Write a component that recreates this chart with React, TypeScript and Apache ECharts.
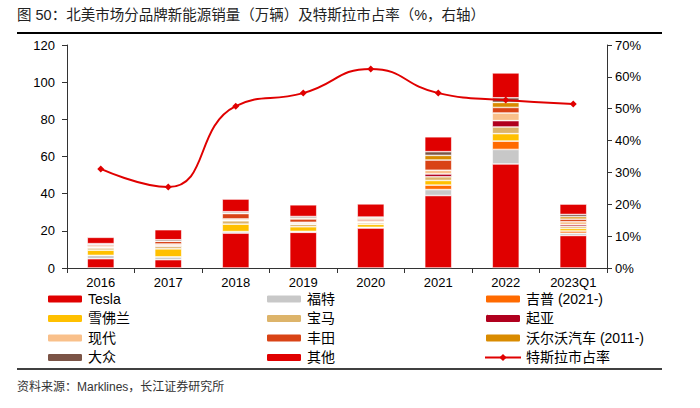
import React, { useEffect, useRef } from "react";
import * as echarts from "echarts";

const categories = ["2016", "2017", "2018", "2019", "2020", "2021", "2022", "2023Q1"];
const tesla = [5.0, 4.5, 18.8, 19.2, 21.5, 39.0, 56.0, 17.5];
const ford = [1.8, 1.5, 0.8, 0.5, 0.4, 3.2, 7.8, 1.2];
const jeep = [0, 0, 0, 0, 0, 2.4, 4.5, 1.2];
const chevrolet = [2.8, 4.3, 4.0, 2.5, 1.6, 2.5, 4.0, 1.4];
const bmw = [1.2, 1.3, 1.8, 1.3, 0.8, 2.0, 3.6, 1.1];
const kia = [0.3, 0.4, 0.3, 0.3, 0.3, 1.5, 3.4, 0.9];
const hyundai = [0.8, 0.9, 0.7, 0.8, 0.7, 2.0, 4.1, 1.6];
const toyota = [0.8, 1.5, 2.9, 1.8, 1.0, 5.5, 3.0, 1.4];
const volvo = [0, 0, 0.3, 0.5, 0.6, 2.5, 2.7, 1.3];
const vw = [0.4, 0.8, 0.7, 0.8, 0.5, 2.0, 2.5, 1.2];
const others = [3.4, 5.4, 6.8, 6.3, 7.1, 8.0, 13.4, 5.6];
const teslaShare = [31.1, 25.4, 50.8, 54.9, 62.5, 54.9, 52.7, 51.5];

const leftTicks = { min: 0, max: 120, interval: 20 };
const rightTicks = { min: 0, max: 70, interval: 10 };

const barSeriesDefs = [
  { name: "Tesla", data: tesla, color: "#E00000" },
  { name: "福特", data: ford, color: "#C8C8C8" },
  { name: "吉普 (2021-)", data: jeep, color: "#FF6A00" },
  { name: "雪佛兰", data: chevrolet, color: "#FFC000" },
  { name: "宝马", data: bmw, color: "#DDB46A" },
  { name: "起亚", data: kia, color: "#B0001E" },
  { name: "现代", data: hyundai, color: "#F9C08A" },
  { name: "丰田", data: toyota, color: "#D94316" },
  { name: "沃尔沃汽车 (2011-)", data: volvo, color: "#D98B00" },
  { name: "大众", data: vw, color: "#7B5446" },
  { name: "其他", data: others, color: "#E00000" },
];

const FONT = 'Arial, "Liberation Sans", "Noto Sans CJK SC", sans-serif';

export default function App() {
  const ref = useRef<HTMLDivElement>(null);
  useEffect(() => {
    if (!ref.current) return;
    const chart = echarts.init(ref.current, null, { renderer: "svg" });
    const legendCommon = {
      orient: "vertical",
      top: 292,
      padding: 0,
      itemWidth: 36,
      itemHeight: 9,
      itemGap: 5.5,
      textStyle: { fontSize: 14, color: "#000", fontFamily: FONT },
      selectedMode: false,
    };
    chart.setOption({
      animation: false,
      textStyle: { fontFamily: FONT },
      grid: { left: 67, right: 93, top: 45, bottom: 140 },
      legend: [
        { ...legendCommon, left: 46, data: ["Tesla", "雪佛兰", "现代", "大众"] },
        { ...legendCommon, left: 265, data: ["福特", "宝马", "丰田", "其他"] },
        { ...legendCommon, left: 484, data: ["吉普 (2021-)", "起亚", "沃尔沃汽车 (2011-)", "特斯拉市占率"] },
      ],
      xAxis: {
        type: "category",
        data: categories,
        axisLine: { lineStyle: { color: "#333", width: 1 } },
        axisTick: { show: true, lineStyle: { color: "#333" } },
        axisLabel: { color: "#000", fontSize: 13, margin: 8 },
      },
      yAxis: [
        {
          type: "value",
          ...leftTicks,
          axisLine: { show: true, lineStyle: { color: "#333" } },
          axisTick: { show: true, lineStyle: { color: "#333" } },
          splitLine: { show: false },
          axisLabel: { color: "#000", fontSize: 13, margin: 12 },
        },
        {
          type: "value",
          ...rightTicks,
          axisLine: { show: true, lineStyle: { color: "#333" } },
          axisTick: { show: true, lineStyle: { color: "#333" } },
          splitLine: { show: false },
          axisLabel: { color: "#000", fontSize: 13, margin: 8, formatter: "{value}%" },
        },
      ],
      series: [
        ...barSeriesDefs.map((s) => ({
          name: s.name,
          type: "bar",
          stack: "total",
          barWidth: 27,
          data: s.data,
          itemStyle: { color: s.color, borderColor: "#fff", borderWidth: 0.6 },
        })),
        {
          name: "特斯拉市占率",
          type: "line",
          yAxisIndex: 1,
          data: teslaShare,
          smooth: true,
          symbol: "diamond",
          symbolSize: 7,
          lineStyle: { color: "#E00000", width: 2 },
          itemStyle: { color: "#E00000" },
          z: 10,
        },
      ],
      graphic: [
        {
          type: "text",
          left: 17,
          top: 8,
          style: {
            text: "图 50：北美市场分品牌新能源销量（万辆）及特斯拉市占率（%，右轴）",
            fontSize: 14.5,
            fill: "#222",
            fontFamily: FONT,
          },
        },
        {
          type: "line",
          shape: { x1: 17, y1: 33, x2: 662, y2: 33 },
          style: { stroke: "#000", lineWidth: 2 },
        },
        {
          type: "line",
          shape: { x1: 17, y1: 369, x2: 662, y2: 369 },
          style: { stroke: "#000", lineWidth: 1.5 },
        },
        {
          type: "text",
          left: 17,
          top: 381,
          style: {
            text: "资料来源：Marklines，长江证券研究所",
            fontSize: 12,
            fill: "#333",
            fontFamily: FONT,
          },
        },
      ],
    });
    return () => chart.dispose();
  }, []);
  return (
    <div
      ref={ref}
      style={{ position: "fixed", left: 0, top: 0, width: 700, height: 408, background: "#fff" }}
    />
  );
}
